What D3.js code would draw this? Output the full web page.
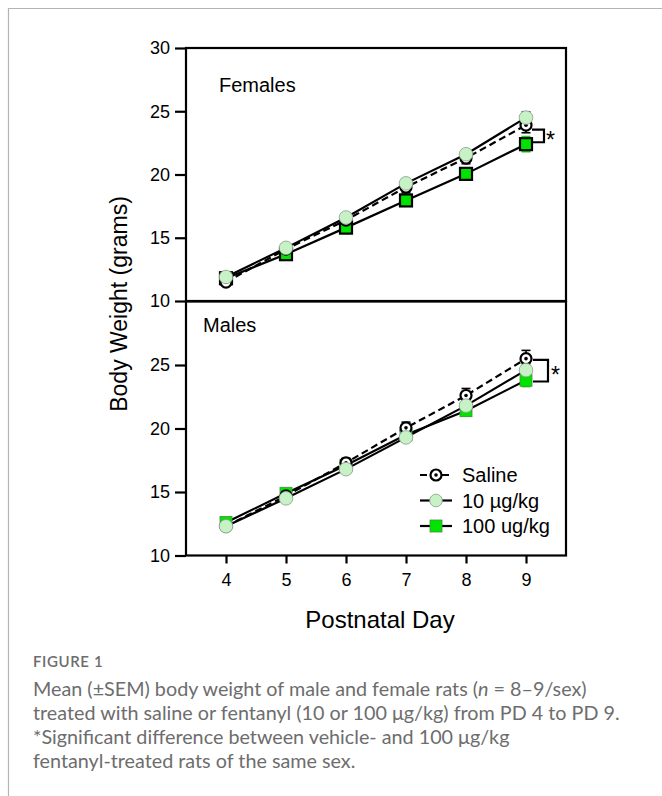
<!DOCTYPE html>
<html>
<head>
<meta charset="utf-8">
<script src="https://cdn.jsdelivr.net/npm/d3@7"></script>
<style>
  body { margin: 0; background: #fff; }
  svg { display: block; }
</style>
</head>
<body>
<svg id="chart"></svg>
<script>
// postnatal days on the x axis
const days = [4, 5, 6, 7, 8, 9];
const yTicksTop = [10, 15, 20, 25, 30];
const yTicksBottom = [10, 15, 20, 25];

// body weight means (grams)
const femaleSaline = [11.5, 14.1, 16.4, 19.0, 21.3, 23.9];
const female10 = [11.9, 14.2, 16.6, 19.3, 21.6, 24.5];
const female100 = [11.8, 13.7, 15.8, 17.95, 20.05, 22.4];
const maleSaline = [12.3, 14.7, 17.3, 20.05, 22.6, 25.5];
const male10 = [12.3, 14.5, 16.8, 19.3, 21.8, 24.6];
const male100 = [12.6, 14.9, 17.1, 19.5, 21.4, 23.8];

// SEM
const femaleSalineSem = [0.25, 0.3, 0.3, 0.45, 0.45, 0.6];
const female10Sem = [0.2, 0.25, 0.3, 0.3, 0.35, 0.45];
const female100Sem = [0.2, 0.25, 0.3, 0.35, 0.4, 0.6];
const maleSalineSem = [0.25, 0.3, 0.35, 0.45, 0.55, 0.65];
const male10Sem = [0.2, 0.25, 0.3, 0.35, 0.4, 0.5];
const male100Sem = [0.2, 0.25, 0.3, 0.35, 0.4, 0.5];

const legendLabels = ["Saline", "10 µg/kg", "100 ug/kg"];
// significance bracket ends (grams) at day 9
const femaleBracket = [23.55, 22.55];
const maleBracket = [25.4, 23.7];

const captionTitle = "FIGURE 1";
const captionLines = [
  "Mean (\u00B1SEM) body weight of male and female rats (",
  "treated with saline or fentanyl (10 or 100 \u03BCg/kg) from PD 4 to PD 9.",
  "*Significant difference between vehicle- and 100 \u03BCg/kg",
  "fentanyl-treated rats of the same sex."
];

const w = 662;
const h = 796;
const font = "'Liberation Sans', Arial, sans-serif";
const lightGreen = "#c6f2c6";
const brightGreen = "#00e400";

const svg = d3.select("#chart").attr("width", w).attr("height", h);

// light frame of the figure
svg.append("path")
  .attr("d", "M8.5,796 V8.5 H662")
  .attr("fill", "none")
  .attr("stroke", "#b4b4b4")
  .attr("stroke-width", 1.2);

const x = d3.scaleLinear().domain([10 / 3, 29 / 3]).range([186, 566]);
const yTop = d3.scaleLinear().domain([10, 30]).range([301, 48]);
const yBottom = d3.scaleLinear().domain([10, 30]).range([555.5, 301.5]);

function drawPanel(y, ticks, series, label, labelPos, bracket, bracketOff, starPos, squareStroke) {
  const g = svg.append("g");

  // frame
  g.append("rect")
    .attr("x", x.range()[0])
    .attr("y", y.range()[1])
    .attr("width", x.range()[1] - x.range()[0])
    .attr("height", y.range()[0] - y.range()[1])
    .attr("fill", "none")
    .attr("stroke", "#000")
    .attr("stroke-width", 2.2);

  // y axis
  const ax = g.append("g")
    .attr("transform", "translate(" + x.range()[0] + ",0)")
    .call(d3.axisLeft(y).tickValues(ticks).tickSize(11).tickPadding(5));
  ax.select(".domain").remove();
  ax.selectAll("line").attr("stroke-width", 2.2);
  ax.selectAll("text").attr("font-family", font).attr("font-size", 18).attr("fill", "#000");

  g.append("text")
    .attr("x", labelPos[0])
    .attr("y", labelPos[1])
    .attr("font-family", font)
    .attr("font-size", 20)
    .text(label);

  const line = d3.line().x((d, i) => x(days[i])).y((d) => y(d));

  // lines
  series.forEach((s) => {
    g.append("path")
      .datum(s.values)
      .attr("d", line)
      .attr("fill", "none")
      .attr("stroke", "#000")
      .attr("stroke-width", 2.2)
      .attr("stroke-dasharray", s.dashed ? "7,4" : null);
  });

  // error bars
  series.forEach((s) => {
    const eb = g.append("g").attr("stroke", s.errColor).attr("stroke-width", 1.6);
    s.values.forEach((v, i) => {
      const cx = x(days[i]);
      const hi = y(v + s.sem[i]);
      const lo = y(v - s.sem[i]);
      eb.append("line").attr("x1", cx).attr("x2", cx).attr("y1", hi).attr("y2", lo);
      eb.append("line").attr("x1", cx - 4.5).attr("x2", cx + 4.5).attr("y1", hi).attr("y2", hi);
      eb.append("line").attr("x1", cx - 4.5).attr("x2", cx + 4.5).attr("y1", lo).attr("y2", lo);
    });
  });

  // symbols: squares, then saline, then 10 ug/kg on top
  const sq = series[2];
  g.selectAll(".sq")
    .data(sq.values)
    .enter()
    .append("rect")
    .attr("x", (d, i) => x(days[i]) - 6)
    .attr("y", (d) => y(d) - 6)
    .attr("width", 12)
    .attr("height", 12)
    .attr("fill", brightGreen)
    .attr("stroke", squareStroke.color)
    .attr("stroke-width", squareStroke.width);

  const sal = series[0];
  sal.values.forEach((v, i) => {
    g.append("circle")
      .attr("cx", x(days[i]))
      .attr("cy", y(v))
      .attr("r", 5.5)
      .attr("fill", "#fff")
      .attr("stroke", "#000")
      .attr("stroke-width", 2.2);
    g.append("circle")
      .attr("cx", x(days[i]))
      .attr("cy", y(v))
      .attr("r", 1.8)
      .attr("fill", "#000");
  });

  const mid = series[1];
  g.selectAll(".mid")
    .data(mid.values)
    .enter()
    .append("circle")
    .attr("cx", (d, i) => x(days[i]))
    .attr("cy", (d) => y(d))
    .attr("r", 6.8)
    .attr("fill", lightGreen)
    .attr("stroke", "#8a9a8a")
    .attr("stroke-width", 0.8);

  // significance bracket
  const bx0 = x(9) + bracketOff[0];
  const bx1 = x(9) + bracketOff[1];
  g.append("path")
    .attr("d", "M" + bx0 + "," + y(bracket[0]) + " H" + bx1 + " V" + y(bracket[1]) + " H" + bx0)
    .attr("fill", "none")
    .attr("stroke", "#000")
    .attr("stroke-width", 2.2);
  g.append("text")
    .attr("x", starPos[0])
    .attr("y", starPos[1])
    .attr("font-family", font)
    .attr("font-size", 23)
    .text("*");
}

drawPanel(
  yTop,
  yTicksTop,
  [
    { values: femaleSaline, sem: femaleSalineSem, dashed: true, errColor: "#000" },
    { values: female10, sem: female10Sem, dashed: false, errColor: "#333" },
    { values: female100, sem: female100Sem, dashed: false, errColor: brightGreen }
  ],
  "Females", [219, 92], femaleBracket, [6, 18], [546, 148],
  { color: "#000", width: 2.2 }
);

drawPanel(
  yBottom,
  yTicksBottom,
  [
    { values: maleSaline, sem: maleSalineSem, dashed: true, errColor: "#000" },
    { values: male10, sem: male10Sem, dashed: false, errColor: "#333" },
    { values: male100, sem: male100Sem, dashed: false, errColor: brightGreen }
  ],
  "Males", [203, 332], maleBracket, [7, 22], [551, 383],
  { color: "#4a8a4a", width: 0.8 }
);

// x axis
const xAx = svg.append("g")
  .attr("transform", "translate(0," + yBottom.range()[0] + ")")
  .call(d3.axisBottom(x).tickValues(days).tickFormat(d3.format("d")).tickSize(8).tickPadding(10));
xAx.select(".domain").remove();
xAx.selectAll("line").attr("stroke-width", 2.2);
xAx.selectAll("text").attr("font-family", font).attr("font-size", 18).attr("fill", "#000");

svg.append("text")
  .attr("x", 380)
  .attr("y", 628)
  .attr("text-anchor", "middle")
  .attr("font-family", font)
  .attr("font-size", 24)
  .text("Postnatal Day");

svg.append("text")
  .attr("transform", "translate(127,304) rotate(-90)")
  .attr("text-anchor", "middle")
  .attr("font-family", font)
  .attr("font-size", 23)
  .text("Body Weight (grams)");

// legend
const legend = svg.append("g");
const legendY = [475, 500.5, 526];
legendLabels.forEach((lab, i) => {
  const ly = legendY[i];
  legend.append("line")
    .attr("x1", 420).attr("x2", 452)
    .attr("y1", ly).attr("y2", ly)
    .attr("stroke", "#000")
    .attr("stroke-width", 2.2)
    .attr("stroke-dasharray", i === 0 ? "7,4" : null);
  if (i === 0) {
    legend.append("circle").attr("cx", 436).attr("cy", ly).attr("r", 5.5)
      .attr("fill", "#fff").attr("stroke", "#000").attr("stroke-width", 2.2);
    legend.append("circle").attr("cx", 436).attr("cy", ly).attr("r", 1.8).attr("fill", "#000");
  } else if (i === 1) {
    legend.append("circle").attr("cx", 436).attr("cy", ly).attr("r", 6.3)
      .attr("fill", lightGreen).attr("stroke", "#8a9a8a").attr("stroke-width", 0.8);
  } else {
    legend.append("rect").attr("x", 430).attr("y", ly - 6).attr("width", 12).attr("height", 12)
      .attr("fill", brightGreen).attr("stroke", "#4a8a4a").attr("stroke-width", 0.8);
  }
  legend.append("text")
    .attr("x", 462)
    .attr("y", ly)
    .attr("dy", "0.36em")
    .attr("font-family", font)
    .attr("font-size", 20)
    .text(lab);
});

// caption
const capFont = "Lato, 'Open Sans', sans-serif";
svg.append("text")
  .attr("x", 33)
  .attr("y", 667)
  .attr("font-family", capFont)
  .attr("font-size", 15)
  .attr("font-weight", 600)
  .attr("letter-spacing", 0.6)
  .attr("fill", "#6d6d6d")
  .text(captionTitle);

const capBaselines = [696, 720, 744, 768];
const capLines = svg.append("g")
  .attr("font-family", capFont)
  .attr("font-size", 17)
  .attr("fill", "#6d6d6d");

capLines.append("text")
  .attr("x", 33)
  .attr("y", capBaselines[0])
  .call((t) => {
    t.append("tspan").text(captionLines[0]);
    t.append("tspan").attr("font-style", "italic").text("n");
    t.append("tspan").text(" = 8\u20139/sex)");
  });
captionLines.slice(1).forEach((txt, i) => {
  capLines.append("text")
    .attr("x", 33)
    .attr("y", capBaselines[i + 1])
    .text(txt);
});

// size the caption so its longest line spans like the original (ends near x=620)
const probe = capLines.selectAll("text").nodes()[1];
const len = probe.getComputedTextLength();
capLines.attr("font-size", 17 * 587 / len);
</script>
</body>
</html>
